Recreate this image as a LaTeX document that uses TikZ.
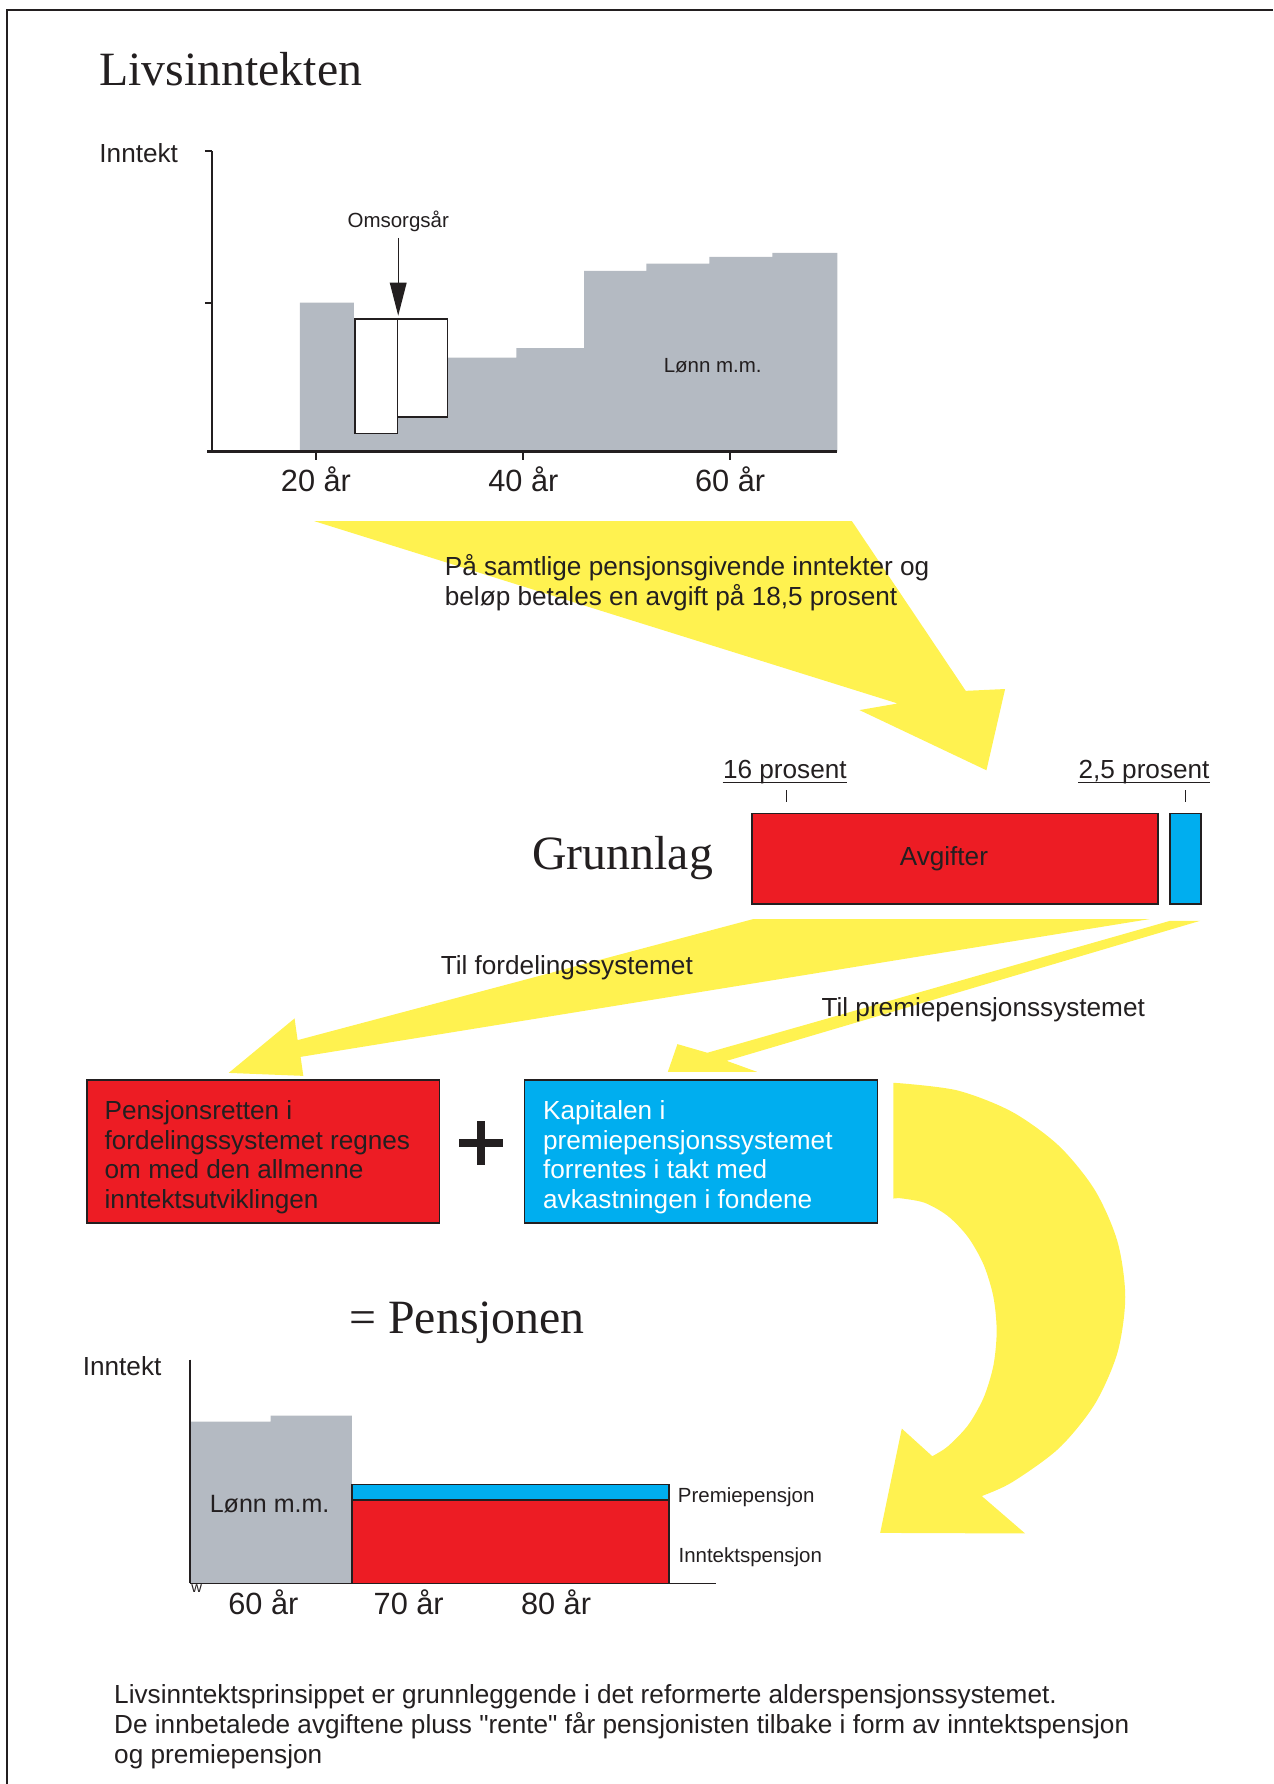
\documentclass[tikz,border=0pt]{standalone}
\usepackage{fontspec}
\setmainfont{Liberation Sans}
\newfontfamily\seriffont{Liberation Serif}
\newfontfamily\plainquote{Liberation Sans}[Ligatures=TeXOff]
\usetikzlibrary{arrows.meta}
\definecolor{lgray}{RGB}{180,186,194}
\definecolor{pred}{RGB}{237,28,36}
\definecolor{pblue}{RGB}{0,174,239}
\definecolor{pyellow}{RGB}{255,242,80}
\definecolor{ink}{RGB}{35,31,32}
\begin{document}
\begin{tikzpicture}[x=0.5pt,y=-0.5pt,
  txt/.style={inner sep=0pt, anchor=base west, text=ink, font=\fontsize{11.5}{13}\selectfont},
  smalltxt/.style={inner sep=0pt, anchor=base west, text=ink, font=\fontsize{9}{10}\selectfont},
  agetxt/.style={inner sep=0pt, anchor=base, text=ink, font=\fontsize{13.5}{15}\selectfont},
  titletxt/.style={inner sep=0pt, anchor=base west, text=ink, font=\seriffont\fontsize{21}{24}\selectfont},
  boxnode/.style={draw=ink, line width=0.75pt, anchor=north west, inner sep=0pt, outer sep=0pt},
  axis/.style={draw=ink, line width=0.8pt},
  bigarrow/.style={fill=pyellow}
]
\useasboundingbox (0,0) rectangle (1119,1568);
% frame
\draw[ink, line width=0.8pt] (6,1568) -- (6,8.8) -- (1119,8.8);

% ---------- top chart ----------
\node[titletxt] (title1) at (87,75.5) {Livsinntekten};
\node[txt] (ink1) at (87,143) {Inntekt};
\fill[lgray] (263.5,397) -- (263.5,265.9) -- (311,265.9) -- (311,314.3) -- (453.8,314.3) -- (453.8,306)
  -- (513.4,306) -- (513.4,238) -- (568,238) -- (568,231.8) -- (623.4,231.8) -- (623.4,225.7)
  -- (678.8,225.7) -- (678.8,222.2) -- (736,222.2) -- (736,397) -- cycle;
\draw[ink, line width=0.7pt, fill=white] (312,280.2) rectangle (349.5,381.1);
\draw[ink, line width=0.7pt, fill=white] (349.5,280.2) rectangle (393.4,366.5);
\draw[axis] (186,133) -- (186,397);
\draw[axis, line width=1.1pt] (182,397) -- (736,397);
\draw[axis] (180,133) -- (186,133);
\draw[axis] (180,266) -- (186,266);
\foreach \xx in {277.7,460,641.7} \draw[axis] (\xx,397) -- (\xx,404);
\node[smalltxt, anchor=base] (oms) at (350,200) {Omsorgsår};
\coordinate (omsstart) at (350,209);
\coordinate (omsend) at (350,277.5);
\draw[ink, line width=0.6pt, -{Triangle[length=14.5pt,width=7.3pt]}] (omsstart) -- (omsend);
\node[smalltxt] (lonn1) at (583,327) {Lønn m.m.};
\node[agetxt] (a20) at (277.7,432) {20 år};
\node[agetxt] (a40) at (460,432) {40 år};
\node[agetxt] (a60) at (641.7,432) {60 år};

% ---------- yellow arrows ----------
\fill[bigarrow] (276.4,458.1) -- (748.8,458.1) -- (848.8,607.2) -- (883.4,605.6) -- (867,677)
  -- (755.4,624.1) -- (789,618.3) -- cycle;
\fill[bigarrow] (662,807.8) -- (1010.4,807.8) -- (264.2,928.9) -- (266.6,945.6) -- (201,943)
  -- (258.9,895.1) -- (261.6,914.2) -- cycle;
\fill[bigarrow] (1028.5,809.3) -- (1054.9,809.3) -- (638.7,932.4) -- (665.2,942) -- (587,942)
  -- (595.4,917.7) -- (621.7,925.3) -- cycle;
\fill[bigarrow] (785.3,951.7) -- plot[smooth] coordinates {(790,952) (841.5,958.4) (889.5,977.2)
  (930.7,1007.1) (962.3,1046) (982.2,1091.3) (989,1140) (982.2,1188.7) (962.3,1234) (930.7,1272.9)
  (889.5,1302.8) (862.9,1314.9)} -- (901,1347.8) -- (773.6,1347.3) -- (792.6,1255.6) -- (819.4,1279.9)
  -- plot[smooth] coordinates {(819.4,1279.9) (833,1271.3) (850.8,1252.7) (864.5,1228.5) (873.1,1200.3)
  (876,1170) (873.1,1139.7) (864.5,1111.5) (850.8,1087.3) (833,1068.7) (812.3,1057) (790,1053)}
  -- (785.3,1053.4) -- cycle;

\node[txt] (pa1) at (390.6,506) {På samtlige pensjonsgivende inntekter og};
\node[txt] (pa2) at (390.6,532) {beløp betales en avgift på 18,5 prosent};

% ---------- Grunnlag ----------
\node[txt] (p16) at (635.1,684.5) {16 prosent};
\node[txt] (p25) at (947.6,684.5) {2,5 prosent};
\draw[ink, line width=0.6pt] ([yshift=-1.75pt]p16.base west) -- ([yshift=-1.75pt]p16.base east);
\draw[ink, line width=0.6pt] ([yshift=-1.75pt]p25.base west) -- ([yshift=-1.75pt]p25.base east);
\draw[ink, line width=0.5pt] (691.1,694.5) -- (691.1,704.5);
\draw[ink, line width=0.5pt] (1041.7,694.5) -- (1041.7,704.5);
\node[titletxt] (grunn) at (467.6,764.5) {Grunnlag};
\node[boxnode, fill=pred, minimum width=178.25pt, minimum height=39.9pt] (avg) at (661,715) {};
\node[boxnode, fill=pblue, minimum width=13.45pt, minimum height=39.9pt] (avgb) at (1028.5,715) {};
\node[txt, anchor=base] (avgt) at (829.6,760.5) {Avgifter};

\node[txt] (tilf) at (387,856.5) {Til fordelingssystemet};
\node[txt] (tilp) at (721.7,893) {Til premiepensjonssystemet};

% ---------- boxes ----------
\node[boxnode, fill=pred, minimum width=155.05pt, minimum height=63.1pt] (fbox) at (76.2,949) {};
\node[boxnode, fill=pblue, minimum width=155.1pt, minimum height=63.1pt] (kbox) at (461,949) {};
\foreach \tline [count=\i] in {Pensjonsretten i, fordelingssystemet regnes, om med den allmenne, inntektsutviklingen}
  \node[txt] (fl\i) at (91.6,958+26*\i) {\tline};
\foreach \tline [count=\i] in {Kapitalen i, premiepensjonssystemet, forrentes i takt med, avkastningen i fondene}
  \node[txt, text=white] (kl\i) at (477,958+26*\i) {\tline};
\fill[ink] (403.5,1001.2) rectangle (442.4,1008);
\fill[ink] (419.6,985.2) rectangle (426.3,1023.5);

\node[titletxt] (pens) at (306.8,1172) {= Pensjonen};

% ---------- bottom chart ----------
\node[txt] (ink2) at (72.4,1209) {Inntekt};
\fill[lgray] (166.8,1391.7) -- (166.8,1249.5) -- (237.8,1249.5) -- (237.8,1244.2) -- (309.3,1244.2) -- (309.3,1391.7) -- cycle;
\draw[ink, line width=0.75pt, fill=pblue] (309.3,1304.7) rectangle (588,1318.3);
\draw[ink, line width=0.75pt, fill=pred] (309.3,1318.3) rectangle (588,1391.7);
\draw[axis] (166.8,1194.9) -- (166.8,1391.7);
\draw[axis] (166.8,1391.7) -- (629.3,1391.7);
\node[inner sep=0pt, anchor=base, text=ink, font=\fontsize{6.5}{7}\selectfont] (wmark) at (173,1400) {w};
\node[txt, font=\fontsize{11}{13}\selectfont] (lonn2) at (184,1329) {Lønn m.m.};
\node[smalltxt] (prem) at (595.4,1320.6) {Premiepensjon};
\node[smalltxt] (intp) at (596,1373) {Inntektspensjon};
\node[agetxt] (b60) at (231.5,1418.7) {60 år};
\node[agetxt] (b70) at (359.2,1418.7) {70 år};
\node[agetxt] (b80) at (488.7,1418.7) {80 år};

% ---------- footer ----------
\node[txt] (f1) at (100,1497) {Livsinntektsprinsippet er grunnleggende i det reformerte alderspensjonssystemet.};
\node[txt] (f2) at (100,1524) {De innbetalede avgiftene pluss {\plainquote "rente"} får pensjonisten tilbake i form av inntektspensjon};
\node[txt] (f3) at (100,1550) {og premiepensjon};
\end{tikzpicture}
\end{document}
